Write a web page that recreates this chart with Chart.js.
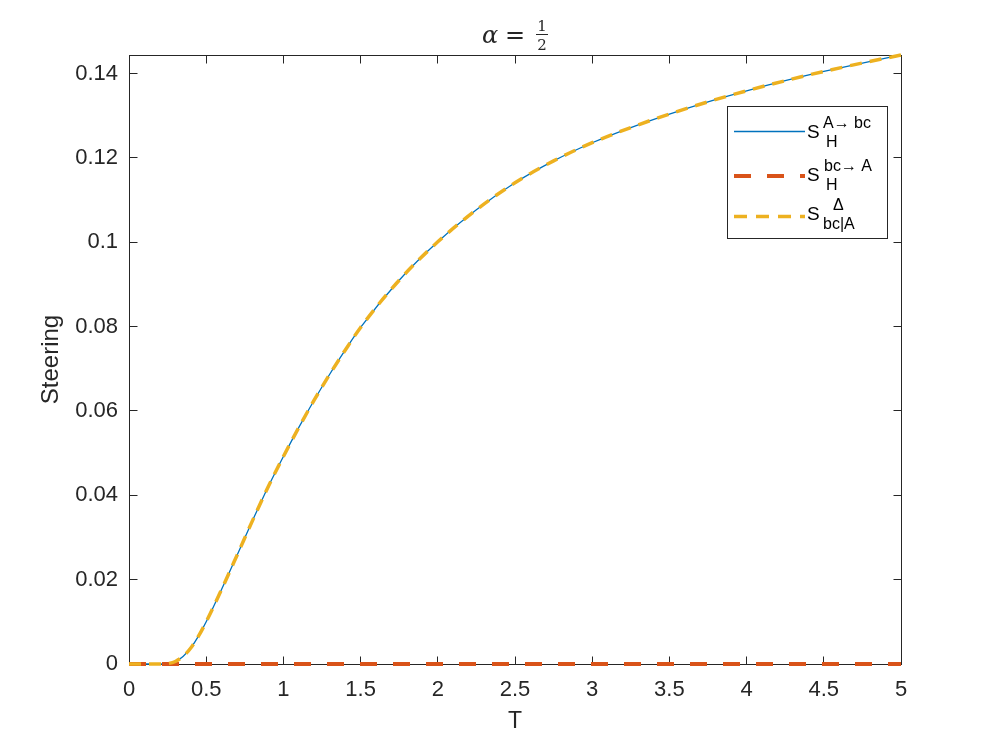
<!DOCTYPE html>
<html>
<head>
<meta charset="utf-8">
<script src="https://cdn.jsdelivr.net/npm/chart.js@4.4.1/dist/chart.umd.min.js"></script>
<style>
    html, body { margin: 0; padding: 0; background: #ffffff; }
    canvas { display: block; }
</style>
</head>
<body>
<canvas id="steeringChart" width="996" height="747"></canvas>
<script>
// Steering vs T, alpha = 1/2

const tValues = [0, 0.1, 0.2, 0.25, 0.3, 0.35, 0.4, 0.45, 0.5, 0.6, 0.7, 0.8, 0.9, 1.0, 1.1, 1.2, 1.3, 1.4, 1.5, 1.75, 2.0, 2.25, 2.5, 2.75, 3.0, 3.25, 3.5, 3.75, 4.0, 4.25, 4.5, 4.75, 5.0];
const forwardSteering = [0, 0, 0, 0.0001, 0.0006, 0.0018, 0.0038, 0.0066, 0.0100, 0.0177, 0.0258, 0.0340, 0.0419, 0.0492, 0.0561, 0.0626, 0.0687, 0.0744, 0.0798, 0.0910, 0.1001, 0.1077, 0.1141, 0.1193, 0.1236, 0.1272, 0.1304, 0.1333, 0.1359, 0.1383, 0.1405, 0.1425, 0.1444];
const backwardSteering = [0, 0, 0, 0, 0, 0, 0, 0, 0, 0, 0, 0, 0, 0, 0, 0, 0, 0, 0, 0, 0, 0, 0, 0, 0, 0, 0, 0, 0, 0, 0, 0, 0];
const deltaSteering = [0, 0, 0, 0.0001, 0.0006, 0.0018, 0.0038, 0.0066, 0.0100, 0.0177, 0.0258, 0.0340, 0.0419, 0.0492, 0.0561, 0.0626, 0.0687, 0.0744, 0.0798, 0.0910, 0.1001, 0.1077, 0.1141, 0.1193, 0.1236, 0.1272, 0.1304, 0.1333, 0.1359, 0.1383, 0.1405, 0.1425, 0.1444];

const xTicks = [0, 0.5, 1, 1.5, 2, 2.5, 3, 3.5, 4, 4.5, 5];
const yTicks = [0, 0.02, 0.04, 0.06, 0.08, 0.1, 0.12, 0.14];

const AXIS_COLOR = '#262626';
const FONT = '"Liberation Sans", Arial, Helvetica, sans-serif';
const SERIF = '"DejaVu Serif", "Liberation Serif", serif';

function toPoints(values) {
    return tValues.map((t, i) => ({ x: t, y: values[i] }));
}

// Axes box and inward ticks go under the lines
const axesBox = {
    id: 'axesBox',
    beforeDatasetsDraw(chart) {
        const ctx = chart.ctx;
        const area = chart.chartArea;
        const xs = chart.scales.x;
        const ys = chart.scales.y;
        const L = Math.floor(area.left) + 0.5;
        const R = Math.floor(area.right) + 0.5;
        const T = Math.floor(area.top) + 0.5;
        const B = Math.floor(area.bottom) + 0.5;
        const tick = 8;

        ctx.save();
        ctx.strokeStyle = AXIS_COLOR;
        ctx.lineWidth = 1;
        ctx.strokeRect(L, T, R - L, B - T);

        ctx.beginPath();
        xTicks.forEach(v => {
            const px = Math.floor(xs.getPixelForValue(v)) + 0.5;
            ctx.moveTo(px, B); ctx.lineTo(px, B - tick);
            ctx.moveTo(px, T); ctx.lineTo(px, T + tick);
        });
        yTicks.forEach(v => {
            const py = Math.floor(ys.getPixelForValue(v)) + 0.5;
            ctx.moveTo(L, py); ctx.lineTo(L + tick, py);
            ctx.moveTo(R, py); ctx.lineTo(R - tick, py);
        });
        ctx.stroke();
        ctx.restore();
    }
};

// Title, axis labels and legend
const decorations = {
    id: 'decorations',
    afterDraw(chart) {
        const ctx = chart.ctx;
        const area = chart.chartArea;

        ctx.save();
        ctx.fillStyle = AXIS_COLOR;
        ctx.textBaseline = 'alphabetic';
        ctx.textAlign = 'left';
        ctx.font = 'italic 24px ' + SERIF;
        ctx.fillText('α', 482, 43);
        ctx.font = '24px ' + SERIF;
        ctx.fillText('=', 505, 43);
        ctx.font = '15px ' + SERIF;
        ctx.textAlign = 'center';
        ctx.fillText('1', 542, 31);
        ctx.fillText('2', 542, 50);
        ctx.fillRect(536, 34, 12, 1);

        ctx.textBaseline = 'middle';
        ctx.font = '23px ' + FONT;
        ctx.fillText('T', (area.left + area.right) / 2, 722);
        ctx.font = '24px ' + FONT;
        ctx.translate(51, (area.top + area.bottom) / 2);
        ctx.rotate(-Math.PI / 2);
        ctx.fillText('Steering', 0, 0);
        ctx.restore();

        drawLegend(ctx);
    }
};

function drawLegend(ctx) {
    const box = { left: 727, top: 106, right: 887, bottom: 238 };
    ctx.save();
    ctx.fillStyle = '#ffffff';
    ctx.fillRect(box.left, box.top, box.right - box.left, box.bottom - box.top);
    ctx.strokeStyle = AXIS_COLOR;
    ctx.lineWidth = 1;
    ctx.strokeRect(box.left + 0.5, box.top + 0.5, box.right - box.left, box.bottom - box.top);

    const entries = [
        { y: 131.5, color: '#0072BD', width: 1.3, dash: [], sup: 'A\u2192 bc', sub: 'H', base: 138, supX: 823, subX: 826 },
        { y: 176, color: '#D95319', width: 4, dash: [17, 16], sup: 'bc\u2192 A', sub: 'H', base: 181, supX: 824, subX: 826 },
        { y: 216.5, color: '#EDB120', width: 3.5, dash: [13, 9], sup: '\u0394', sub: 'bc|A', base: 220, supX: 833, subX: 823 }
    ];

    entries.forEach(e => {
        ctx.beginPath();
        ctx.strokeStyle = e.color;
        ctx.lineWidth = e.width;
        ctx.setLineDash(e.dash);
        ctx.moveTo(734, e.y);
        ctx.lineTo(805, e.y);
        ctx.stroke();
        ctx.setLineDash([]);

        ctx.fillStyle = '#000000';
        ctx.textAlign = 'left';
        ctx.textBaseline = 'alphabetic';
        ctx.font = '19px ' + FONT;
        ctx.fillText('S', 807, e.base);
        ctx.font = '16px ' + FONT;
        ctx.fillText(e.sup, e.supX, e.base - 10);
        ctx.fillText(e.sub, e.subX, e.base + 9);
    });
    ctx.restore();
}

const ctx = document.getElementById('steeringChart').getContext('2d');

new Chart(ctx, {
    type: 'line',
    data: {
        datasets: [
            {
                label: 'forward',
                data: toPoints(forwardSteering),
                borderColor: '#0072BD',
                borderWidth: 1.3,
                pointRadius: 0,
                cubicInterpolationMode: 'monotone',
                fill: false,
                clip: 6,
                order: 3
            },
            {
                label: 'backward',
                data: toPoints(backwardSteering),
                borderColor: '#D95319',
                borderWidth: 4,
                borderDash: [17, 16],
                pointRadius: 0,
                fill: false,
                clip: 6,
                order: 2
            },
            {
                label: 'delta',
                data: toPoints(deltaSteering),
                borderColor: '#EDB120',
                borderWidth: 3.5,
                borderDash: [12, 8],
                pointRadius: 0,
                cubicInterpolationMode: 'monotone',
                fill: false,
                clip: 6,
                order: 1
            }
        ]
    },
    options: {
        responsive: false,
        animation: false,
        devicePixelRatio: 1,
        layout: {
            padding: { left: 0, top: 55, right: 95, bottom: 0 }
        },
        plugins: {
            legend: { display: false },
            tooltip: { enabled: false }
        },
        scales: {
            x: {
                type: 'linear',
                min: 0,
                max: 5,
                afterBuildTicks: scale => { scale.ticks = xTicks.map(v => ({ value: v })); },
                afterFit: scale => { scale.height = 83; },
                grid: { display: false, drawTicks: false },
                border: { display: false },
                ticks: {
                    color: AXIS_COLOR,
                    font: { family: FONT, size: 22 },
                    padding: 13,
                    maxRotation: 0,
                    autoSkip: false,
                    callback: v => String(v)
                }
            },
            y: {
                type: 'linear',
                min: 0,
                max: 0.1444,
                afterBuildTicks: scale => { scale.ticks = yTicks.map(v => ({ value: v })); },
                afterFit: scale => { scale.width = 129; },
                grid: { display: false, drawTicks: false },
                border: { display: false },
                ticks: {
                    color: AXIS_COLOR,
                    font: { family: FONT, size: 22 },
                    padding: 11,
                    autoSkip: false,
                    callback: v => String(v)
                }
            }
        }
    },
    plugins: [axesBox, decorations]
});
</script>
</body>
</html>
